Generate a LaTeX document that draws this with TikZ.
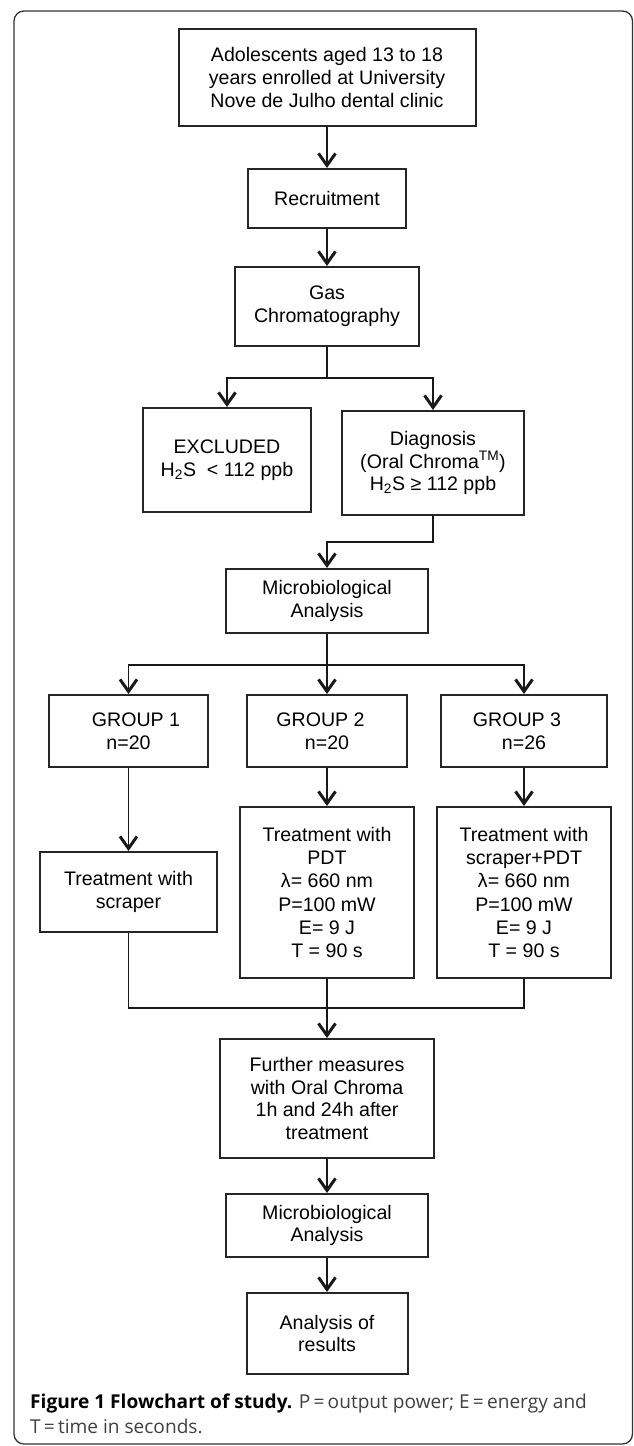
\documentclass[tikz,border=0pt]{standalone}
\usepackage{fontspec}
\setmainfont{Liberation Sans}
\newfontfamily\capfont{Open Sans}
\usetikzlibrary{arrows.meta}
\tikzset{
  box/.style={draw=black!85, line width=2pt, inner sep=0pt, align=center,
    font=\fontsize{19.6}{22.8}\selectfont, text=black},
  conn/.style={draw=black!90, line width=1.8pt},
  arr/.style={conn, -{Straight Barb[length=12pt,width=17pt,line width=3pt]}},
}
\begin{document}
\begin{tikzpicture}[x=1pt,y=-1pt]
\useasboundingbox (0,0) rectangle (633,1446);
\draw[line width=1.3pt, draw=black!80, rounded corners=10pt] (14,11) rectangle (632.5,1444);
% boxes
\node[box, minimum width=297pt, minimum height=97pt] (top) at (327,77.5)
  {Adolescents aged 13 to 18\\years enrolled at University\\Nove de Julho dental clinic};
\node[box, minimum width=158pt, minimum height=59pt] (rec) at (327,198.5) {Recruitment};
\node[box, minimum width=184pt, minimum height=79pt] (gas) at (327,306.5) {Gas\\Chromatography};
\node[box, minimum width=168pt, minimum height=104pt] (excl) at (227,460)
  {EXCLUDED\\H\textsubscript{2}S\ \ {<} 112 ppb};
\node[box, minimum width=182pt, minimum height=104pt] (diag) at (433,463)
  {Diagnosis\\(Oral Chroma\textsuperscript{TM})\\H\textsubscript{2}S ≥ 112 ppb};
\node[box, minimum width=202pt, minimum height=64pt] (mic1) at (327,601) {Microbiological\\Analysis};
\node[box, minimum width=159pt, minimum height=72pt] (g1) at (128.5,731) {\hspace*{15pt}GROUP 1\\n=20};
\node[box, minimum width=160pt, minimum height=72pt] (g2) at (327,731) {GROUP 2\hspace*{13pt}\\n=20};
\node[box, minimum width=166pt, minimum height=72pt] (g3) at (524,731) {GROUP 3\hspace*{14pt}\\n=26};
\node[box, minimum width=177pt, minimum height=80pt] (scr) at (128.5,892) {Treatment with\\scraper};
\node[box, minimum width=174pt, minimum height=171pt, font=\fontsize{19.6}{23.2}\selectfont] (pdt) at (327,892.5)
  {Treatment with\\PDT\\λ= 660 nm\\P=100 mW\\E= 9 J\\T = 90 s};
\node[box, minimum width=174pt, minimum height=171pt, font=\fontsize{19.6}{23.2}\selectfont] (spdt) at (524,892.5)
  {Treatment with\\scraper+PDT\\λ= 660 nm\\P=100 mW\\E= 9 J\\T = 90 s};
\node[box, minimum width=214pt, minimum height=119pt, font=\fontsize{19.6}{22.6}\selectfont] (fur) at (327,1098.5)
  {Further measures\\with Oral Chroma\\1h and 24h after\\treatment};
\node[box, minimum width=202pt, minimum height=63pt] (mic2) at (327,1225.5) {Microbiological\\Analysis};
\node[box, minimum width=161pt, minimum height=81pt] (res) at (327,1333.5) {Analysis of\\results};
% junctions
\coordinate (b1) at (327,378);
\coordinate (b2) at (327,542);
\coordinate (b3) at (327,665);
\coordinate (b4) at (327,1008);
% connectors
\draw[arr] (top.south) -- (rec.north);
\draw[arr] (rec.south) -- (gas.north);
\draw[conn] (gas.south) -- (b1);
\draw[arr] (b1) -| (excl.north);
\draw[arr] (b1) -| (diag.north);
\draw[arr] (diag.south) |- (b2) -- (mic1.north);
\draw[conn] (mic1.south) -- (b3);
\draw[arr] (b3) -| (g1.north);
\draw[arr] (b3) -| (g3.north);
\draw[arr] (b3) -- (g2.north);
\draw[arr] (g1.south) -- (scr.north);
\draw[arr] (g2.south) -- (pdt.north);
\draw[arr] (g3.south) -- (spdt.north);
\draw[conn] (scr.south) |- (b4);
\draw[conn] (spdt.south) |- (b4);
\draw[arr] (pdt.south) -- (fur.north);
\draw[arr] (fur.south) -- (mic2.north);
\draw[arr] (mic2.south) -- (res.north);
% caption
\node[anchor=base west, inner sep=0pt, font=\capfont\fontsize{19.1}{22}\selectfont] (cap1) at (30,1408)
  {\textbf{Figure 1 Flowchart of study.} \textcolor{black!75}{P\,=\,output power; E\,=\,energy and}};
\node[anchor=base west, inner sep=0pt, font=\capfont\fontsize{19.1}{22}\selectfont, text=black!75] (cap2) at (30,1433)
  {T\,=\,time in seconds.};
\end{tikzpicture}
\end{document}
